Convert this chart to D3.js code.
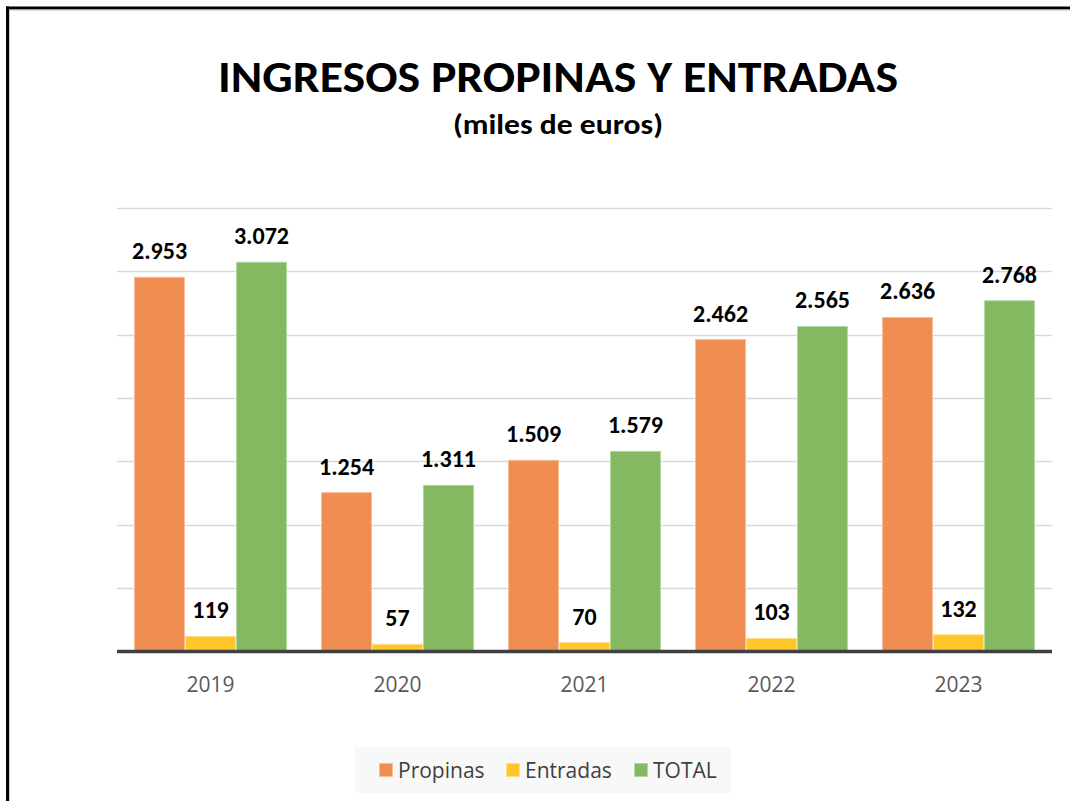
<!DOCTYPE html>
<html>
<head>
<meta charset="utf-8">
<script src="https://cdn.jsdelivr.net/npm/d3@7"></script>
<style>
  html, body { margin: 0; padding: 0; background: #fff; }
  svg { display: block; font-family: Carlito, Lato, "Open Sans", sans-serif; }
</style>
</head>
<body>
<svg id="chart" width="1070" height="801"></svg>
<script>
const years = ["2019", "2020", "2021", "2022", "2023"];
const seriesNames = ["Propinas", "Entradas", "TOTAL"];
const propinas = [2953, 1254, 1509, 2462, 2636];
const entradas = [119, 57, 70, 103, 132];
const total = [3072, 1311, 1579, 2565, 2768];
const yTicks = [0, 500, 1000, 1500, 2000, 2500, 3000, 3500];
const colors = ["#EF8E50", "#FFC62A", "#84B962"];
const strokes = ["#F6BE9A", "#FFE08A", "#B5D6A0"];

const series = [propinas, entradas, total];
const svg = d3.select("#chart");

// frame borders (top & left)
svg.append("line").attr("x1", 6).attr("x2", 1070).attr("y1", 8).attr("y2", 8)
  .attr("stroke", "#000").attr("stroke-width", 3);
svg.append("line").attr("x1", 7.5).attr("x2", 7.5).attr("y1", 6.5).attr("y2", 801)
  .attr("stroke", "#000").attr("stroke-width", 3);
svg.append("line").attr("x1", 9).attr("x2", 1070).attr("y1", 10).attr("y2", 10)
  .attr("stroke", "#bbb").attr("stroke-width", 1);
svg.append("line").attr("x1", 9.5).attr("x2", 9.5).attr("y1", 10).attr("y2", 801)
  .attr("stroke", "#ccc").attr("stroke-width", 1);

// title
svg.append("text").attr("x", 558).attr("y", 92).attr("text-anchor", "middle")
  .attr("font-size", 45).attr("font-weight", "bold").attr("fill", "#000")
  .attr("textLength", 680).attr("lengthAdjust", "spacingAndGlyphs")
  .text("INGRESOS PROPINAS Y ENTRADAS");
svg.append("text").attr("x", 558).attr("y", 134).attr("text-anchor", "middle")
  .attr("font-size", 28).attr("font-weight", "bold").attr("fill", "#000")
  .attr("textLength", 210).attr("lengthAdjust", "spacingAndGlyphs")
  .text("(miles de euros)");

const plotLeft = 117, plotRight = 1052, plotTop = 208, plotBottom = 651.5;
const x = d3.scaleBand().domain(years).range([plotLeft, plotRight]).paddingInner(0.182).paddingOuter(0.091);
const xs = d3.scaleBand().domain(seriesNames).range([0, x.bandwidth()]);
const y = d3.scaleLinear().domain([0, 3500]).range([plotBottom, plotTop]);

// gridlines
svg.append("g").selectAll("line").data(yTicks.filter(d => d > 0)).join("line")
  .attr("x1", plotLeft).attr("x2", plotRight)
  .attr("y1", d => Math.round(y(d)) + 0.5).attr("y2", d => Math.round(y(d)) + 0.5)
  .attr("stroke", "#D9D9D9").attr("stroke-width", 1.3);

// bars
const groups = svg.append("g").selectAll("g").data(years).join("g")
  .attr("transform", d => `translate(${x(d)},0)`);

groups.each(function(yr, i) {
  const g = d3.select(this);
  seriesNames.forEach((s, k) => {
    const v = series[k][i];
    g.append("rect")
      .attr("x", xs(s) + 0.5).attr("width", xs.bandwidth() - 1)
      .attr("y", y(v)).attr("height", plotBottom - y(v))
      .attr("fill", colors[k]).attr("stroke", strokes[k]).attr("stroke-width", 1);
    g.append("text")
      .attr("x", xs(s) + xs.bandwidth() / 2).attr("y", y(v) - 18)
      .attr("text-anchor", "middle").attr("font-size", 24).attr("font-weight", "bold")
      .attr("fill", "#000")
      .text(d3.format(",")(v).replace(/,/g, "."));
  });
});

// baseline axis
const xAxis = d3.axisBottom(x).tickSize(0).tickPadding(26);
const ax = svg.append("g").attr("transform", `translate(0,${plotBottom})`).call(xAxis);
ax.select(".domain").attr("stroke", "#404040").attr("stroke-width", 3.5)
  .attr("d", `M${plotLeft},0H${plotRight}`);
ax.selectAll("text").attr("font-size", 21).attr("fill", "#595959")
  .attr("font-family", "'Open Sans', sans-serif");

// legend
const lg = svg.append("g");
lg.append("rect").attr("x", 355).attr("y", 747).attr("width", 376).attr("height", 46).attr("fill", "#F8F8F8");
const legX = [379, 506, 634];
seriesNames.forEach((s, k) => {
  lg.append("rect").attr("x", legX[k] + 0.5).attr("y", 763.5).attr("width", 13).attr("height", 13)
    .attr("fill", colors[k]).attr("stroke", strokes[k]).attr("stroke-width", 1);
  lg.append("text").attr("x", legX[k] + 19).attr("y", 778).attr("font-size", 21)
    .attr("font-family", "'Open Sans', sans-serif")
    .attr("fill", "#404040").text(s);
});
</script>
</body>
</html>
